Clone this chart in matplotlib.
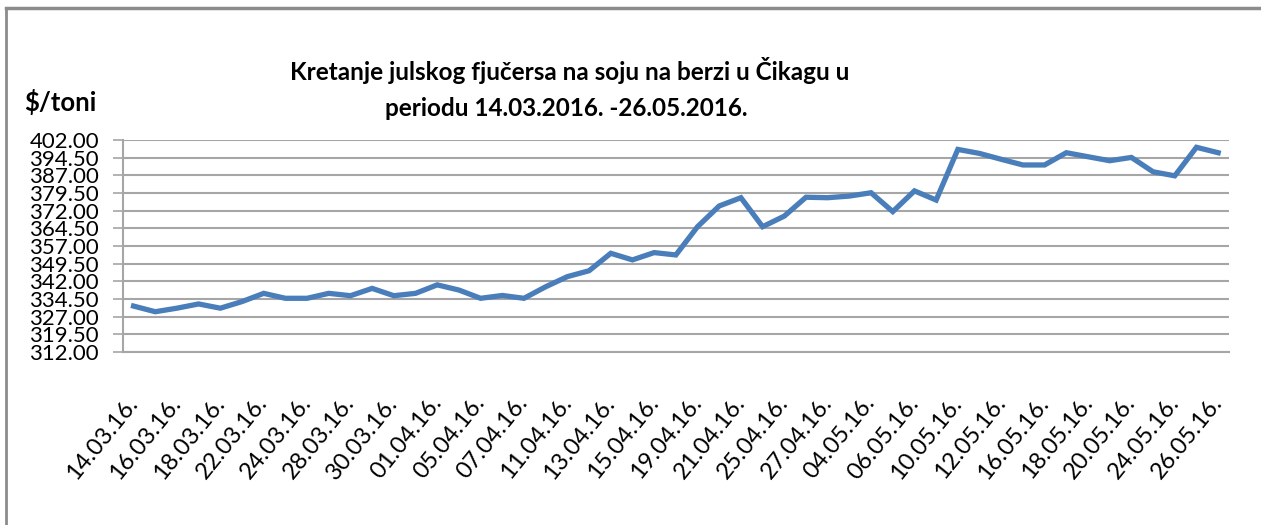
import matplotlib
matplotlib.use("Agg")
import matplotlib.pyplot as plt
from matplotlib.ticker import FormatStrFormatter
import numpy as np

dates = ["14.03.16.", "15.03.16.", "16.03.16.", "17.03.16.", "18.03.16.", "21.03.16.",
         "22.03.16.", "23.03.16.", "24.03.16.", "25.03.16.", "28.03.16.", "29.03.16.",
         "30.03.16.", "31.03.16.", "01.04.16.", "04.04.16.", "05.04.16.", "06.04.16.",
         "07.04.16.", "08.04.16.", "11.04.16.", "12.04.16.", "13.04.16.", "14.04.16.",
         "15.04.16.", "18.04.16.", "19.04.16.", "20.04.16.", "21.04.16.", "22.04.16.",
         "25.04.16.", "26.04.16.", "27.04.16.", "28.04.16.", "04.05.16.", "05.05.16.",
         "06.05.16.", "09.05.16.", "10.05.16.", "11.05.16.", "12.05.16.", "13.05.16.",
         "16.05.16.", "17.05.16.", "18.05.16.", "19.05.16.", "20.05.16.", "23.05.16.",
         "24.05.16.", "25.05.16.", "26.05.16."]
prices = [331.5, 329.1, 330.6, 332.4, 330.6, 333.4, 336.9, 334.8, 334.8, 336.9,
          335.9, 339.0, 335.9, 336.9, 340.5, 338.3, 334.8, 336.0, 334.8, 339.7,
          344.0, 346.5, 353.9, 351.1, 354.2, 353.2, 365.2, 374.0, 377.5, 365.2,
          369.7, 377.7, 377.5, 378.2, 379.6, 371.6, 380.4, 376.5, 398.0, 396.3,
          393.8, 391.4, 391.4, 396.6, 394.9, 393.2, 394.6, 388.5, 386.8, 398.9,
          396.6]
yticks = [312.0, 319.5, 327.0, 334.5, 342.0, 349.5, 357.0, 364.5, 372.0, 379.5,
          387.0, 394.5, 402.0]

FAM = ["Lato", "DejaVu Sans"]
plt.rcParams["font.family"] = FAM

W, H = 1261, 525
fig = plt.figure(figsize=(W / 100, H / 100), dpi=100)
fig.patch.set_facecolor("white")

# outer frame
fig.add_artist(plt.Line2D([6 / W, 6 / W], [0, 1 - 8 / H], transform=fig.transFigure,
                          color="#8c8c8c", lw=2))
fig.add_artist(plt.Line2D([6 / W, 1], [1 - 8 / H, 1 - 8 / H], transform=fig.transFigure,
                          color="#8c8c8c", lw=2.5))

ax = fig.add_axes([122.7 / W, 1 - 352 / H, (1229 - 122.7) / W, (352 - 140) / H])
x = np.arange(len(prices))
ax.plot(x, prices, color="#4a7ebb", lw=3.8, solid_joinstyle="miter")
ax.set_xlim(-0.5, len(prices) - 0.5)
ax.set_ylim(yticks[0], yticks[-1])
ax.set_yticks(yticks)
ax.yaxis.set_major_formatter(FormatStrFormatter("%.2f"))
ax.grid(axis="y", color="#a6a6a6", lw=1.5)
ax.set_axisbelow(True)
for s in ["top", "right"]:
    ax.spines[s].set_visible(False)
for s in ["left", "bottom"]:
    ax.spines[s].set_color("#a6a6a6")
    ax.spines[s].set_linewidth(1.5)
ax.tick_params(axis="y", length=7, color="#a6a6a6", width=1.2, labelsize=16, pad=10)
ax.set_xticks(x[::2])
ax.set_xticklabels(dates[::2], rotation=51, ha="right", va="center",
                   rotation_mode="anchor", fontsize=17)
ax.tick_params(axis="x", length=0, pad=34)

fig.text(570 / W, 1 - 70 / H, "Kretanje julskog fjučersa na soju na berzi u Čikagu u",
         ha="center", va="center", fontsize=17.5, fontweight="bold")
fig.text(566 / W, 1 - 108 / H, "periodu 14.03.2016. -26.05.2016.",
         ha="center", va="center", fontsize=17.5, fontweight="bold")
fig.text(24 / W, 1 - 102 / H, r"\$/toni", ha="left", va="center", fontsize=18.5,
         fontweight="bold")

fig.savefig("out.png", dpi=100)
